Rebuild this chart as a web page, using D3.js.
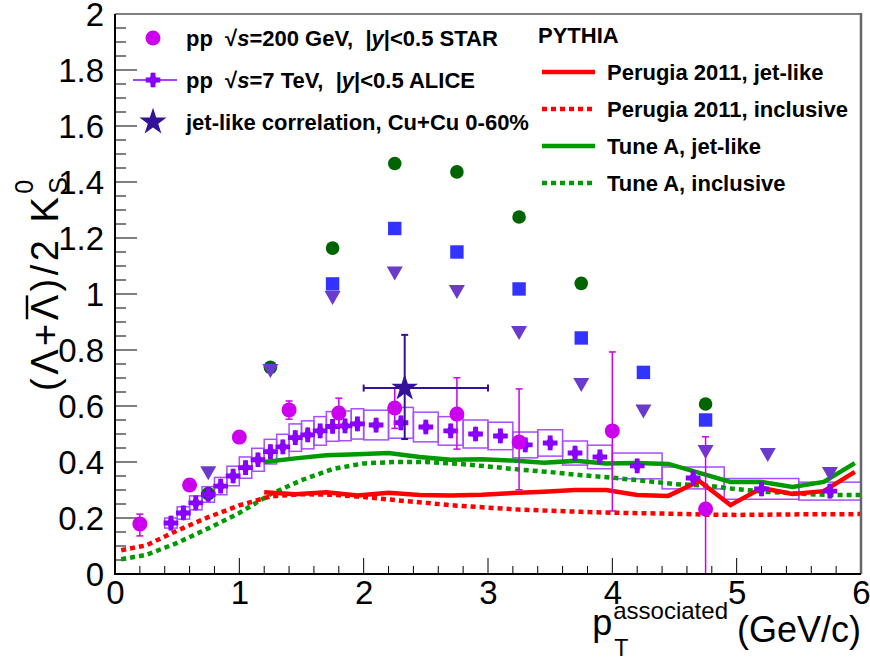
<!DOCTYPE html>
<html><head><meta charset="utf-8">
<script src="https://cdn.jsdelivr.net/npm/d3@7"></script>
<style>
body{margin:0;background:#fff;}
svg{display:block;font-family:"Liberation Sans",Arial,Helvetica,sans-serif;}
text{white-space:pre;}
</style>
</head><body>
<svg id="c" width="870" height="661"></svg>
<script>
// ---------------- data ----------------
// STAR pp 200 GeV
const starX = [0.2, 0.6, 1.0, 1.4, 1.8, 2.25, 2.75, 3.25, 4.0, 4.75];
const starY = [0.179, 0.318, 0.489, 0.586, 0.575, 0.593, 0.571, 0.471, 0.511, 0.232];
const starErrLo = [0.043, 0.0, 0.0, 0.033, 0.045, 0.073, 0.125, 0.17, 0.286, 0.232];
const starErrHi = [0.035, 0.0, 0.0, 0.032, 0.053, 0.071, 0.13, 0.19, 0.282, 0.258];

// ALICE pp 7 TeV
const aliceX = [0.45,0.55,0.65,0.75,0.85,0.95,1.05,1.15,1.25,1.35,1.45,1.55,1.65,1.75,1.85,1.95,
                2.1,2.3,2.5,2.7,2.9,3.1,3.3,3.5,3.7,3.9, 4.2,4.65,5.2,5.75];
const aliceHalfW = [0.05,0.05,0.05,0.05,0.05,0.05,0.05,0.05,0.05,0.05,0.05,0.05,0.05,0.05,0.05,0.05,
                0.1,0.1,0.1,0.1,0.1,0.1,0.1,0.1,0.1,0.1, 0.2,0.25,0.3,0.25];
const aliceY = [0.182,0.218,0.254,0.284,0.314,0.35,0.38,0.408,0.437,0.454,0.487,0.497,0.511,0.527,0.529,0.536,
                0.532,0.54,0.525,0.511,0.5,0.493,0.461,0.468,0.432,0.418, 0.386,0.343,0.304,0.296];
const aliceSys = [0.018,0.022,0.025,0.028,0.031,0.035,0.038,0.041,0.044,0.045,0.049,0.05,0.051,0.053,0.053,0.054,
                0.053,0.055,0.053,0.051,0.05,0.049,0.046,0.047,0.043,0.042, 0.046,0.039,0.037,0.032];

// jet-like correlation Cu+Cu 0-60%
const cuX = [2.33];
const cuY = [0.664];
const cuXLo = [2.0];
const cuXHi = [3.0];
const cuYLo = [0.482];
const cuYHi = [0.854];

// unlabeled marker series
const greenX = [0.75, 1.25, 1.75, 2.25, 2.75, 3.25, 3.75, 4.75];
const greenY = [0.287, 0.738, 1.164, 1.466, 1.436, 1.275, 1.038, 0.607];
const blueX = [1.75, 2.25, 2.75, 3.25, 3.75, 4.25, 4.75];
const blueY = [1.036, 1.234, 1.15, 1.018, 0.843, 0.72, 0.55];
const triX = [0.75, 1.25, 1.75, 2.25, 2.75, 3.25, 3.75, 4.25, 4.75, 5.25, 5.75];
const triY = [0.36, 0.725, 0.986, 1.073, 1.007, 0.861, 0.675, 0.58, 0.436, 0.425, 0.357];

// PYTHIA curves
const jetX = [1.2,1.45,1.7,1.95,2.2,2.45,2.7,2.95,3.2,3.45,3.7,3.95,4.2,4.45,4.7,4.95,5.2,5.45,5.7,5.95];
const perugiaJet = [0.292,0.285,0.292,0.28,0.29,0.282,0.28,0.283,0.289,0.294,0.30,0.30,0.282,0.279,0.332,0.246,0.307,0.286,0.296,0.365];
const tuneAJet = [0.40,0.413,0.424,0.428,0.432,0.418,0.408,0.41,0.405,0.397,0.404,0.395,0.396,0.393,0.361,0.329,0.329,0.311,0.329,0.396];
const inclX = [0.05,0.25,0.5,0.75,1.0,1.25,1.5,1.75,2.0,2.25,2.5,2.75,3.0,3.25,3.5,3.75,4.0,4.25,4.5,4.75,5.0,5.25,5.5,5.75,6.0];
const perugiaIncl = [0.085,0.102,0.155,0.203,0.245,0.277,0.285,0.283,0.275,0.264,0.254,0.244,0.237,0.23,0.226,0.222,0.219,0.217,0.215,0.212,0.211,0.212,0.213,0.213,0.214];
const tuneAIncl = [0.053,0.068,0.111,0.163,0.218,0.285,0.335,0.375,0.395,0.40,0.40,0.394,0.384,0.373,0.364,0.353,0.344,0.333,0.321,0.316,0.303,0.293,0.287,0.282,0.282];

const yMajorTicks = [0,0.2,0.4,0.6,0.8,1,1.2,1.4,1.6,1.8,2];
const xMajorTicks = [0,1,2,3,4,5,6];

// ---------------- drawing ----------------
const svg = d3.select("#c");
const L = 115, R = 861, T = 14, B = 574;
const x = d3.scaleLinear().domain([0, 6]).range([L, R]);
const y = d3.scaleLinear().domain([0, 2]).range([B, T]);

const cMag = "#cc00ee", cAl = "#8a00ff", cAlBox = "#a64dff", cCu = "#33119a";
const cRed = "#ff0000", cGreen = "#009a00", cDkGreen = "#006400", cBlue = "#3333ff", cTri = "#6a3acc";

// marker shapes (centred on their own box)
const triPath = "M-8,-7L8,-7L0,7Z";
const crossPath = d3.symbol(d3.symbolCross, 120)();
const diamondPath = d3.symbol(d3.symbolDiamond, 70)();

// ticks
const yMinor = d3.range(0, 2.0001, 0.05);
const xMinor = d3.range(0, 6.0001, 0.2);
const tg = svg.append("g");
tg.selectAll("line.ym").data(yMinor).join("line")
  .attr("x1", L).attr("x2", d => L + (Math.abs(d / 0.2 - Math.round(d / 0.2)) < 1e-6 ? 22 : 11))
  .attr("y1", d => y(d)).attr("y2", d => y(d)).attr("stroke", "#000").attr("stroke-width", 1);
tg.selectAll("line.xm").data(xMinor).join("line")
  .attr("y1", B).attr("y2", d => B - (Math.abs(d - Math.round(d)) < 1e-6 ? 16 : 8))
  .attr("x1", d => x(d)).attr("x2", d => x(d)).attr("stroke", "#000").attr("stroke-width", 1);

// axes labels via d3 axes (tick lines drawn above)
const yAxis = d3.axisLeft(y).tickValues(yMajorTicks).tickFormat(d3.format("~g")).tickSize(0).tickPadding(11);
const gy = svg.append("g").attr("transform", `translate(${L},0)`).call(yAxis);
gy.select(".domain").remove();
gy.selectAll("text").attr("font-size", 33).attr("fill", "#000")
  .attr("font-family", "Liberation Sans, Arial, sans-serif").attr("dy", "0.36em");
const xAxis = d3.axisBottom(x).tickValues(xMajorTicks).tickFormat(d3.format("~g")).tickSize(0).tickPadding(7);
const gx = svg.append("g").attr("transform", `translate(0,${B})`).call(xAxis);
gx.select(".domain").remove();
gx.selectAll("text").attr("font-size", 33).attr("fill", "#000").attr("font-family", "Liberation Sans, Arial, sans-serif");

// ALICE sys boxes
const plot = svg.append("g");
plot.selectAll("rect.sys").data(aliceX).join("rect")
  .attr("x", (d, i) => x(d - aliceHalfW[i]))
  .attr("width", (d, i) => x(d + aliceHalfW[i]) - x(d - aliceHalfW[i]))
  .attr("y", (d, i) => y(aliceY[i] + aliceSys[i]))
  .attr("height", (d, i) => y(aliceY[i] - aliceSys[i]) - y(aliceY[i] + aliceSys[i]))
  .attr("fill", "none").attr("stroke", cAlBox).attr("stroke-width", 1.5);

// PYTHIA lines
const lineGen = (xs, ys) => d3.line().x((d, i) => x(xs[i])).y(d => y(d))(ys);
plot.append("path").attr("d", lineGen(inclX, tuneAIncl)).attr("fill", "none").attr("stroke", cGreen).attr("stroke-width", 4.5).attr("stroke-dasharray", "5,4");
plot.append("path").attr("d", lineGen(inclX, perugiaIncl)).attr("fill", "none").attr("stroke", cRed).attr("stroke-width", 4.5).attr("stroke-dasharray", "5,4");
plot.append("path").attr("d", lineGen(jetX, tuneAJet)).attr("fill", "none").attr("stroke", cGreen).attr("stroke-width", 4.5);
plot.append("path").attr("d", lineGen(jetX, perugiaJet)).attr("fill", "none").attr("stroke", cRed).attr("stroke-width", 4.5);

// unlabeled markers
plot.selectAll("circle.g").data(greenX).join("circle")
  .attr("cx", d => x(d)).attr("cy", (d, i) => y(greenY[i])).attr("r", 6.8).attr("fill", cDkGreen);
plot.selectAll("path.b").data(blueX).join("path")
  .attr("d", d3.symbol(d3.symbolSquare, 180)())
  .attr("transform", (d, i) => `translate(${x(d)},${y(blueY[i])})`).attr("fill", cBlue);
plot.selectAll("path.t").data(triX).join("path")
  .attr("d", triPath)
  .attr("transform", (d, i) => `translate(${x(d)},${y(triY[i])})`).attr("fill", cTri);

// ALICE points (full cross)
const ag = plot.append("g");
aliceX.forEach((ax, i) => {
  const t = `translate(${x(ax)},${y(aliceY[i])})`;
  ag.append("path").attr("d", diamondPath).attr("transform", t).attr("fill", cAl);
  ag.append("path").attr("d", crossPath).attr("transform", t).attr("fill", cAl);
});

// STAR points with error bars
const sg = plot.append("g");
starX.forEach((sx, i) => {
  const px = x(sx);
  if (starErrLo[i] > 0 || starErrHi[i] > 0) {
    const yt = y(starY[i] + starErrHi[i]), yb = y(Math.max(0, starY[i] - starErrLo[i]));
    sg.append("line").attr("x1", px).attr("x2", px).attr("y1", yt).attr("y2", yb).attr("stroke", cMag).attr("stroke-width", 1.5);
    sg.append("line").attr("x1", px - 3.5).attr("x2", px + 3.5).attr("y1", yt).attr("y2", yt).attr("stroke", cMag).attr("stroke-width", 1.5);
    if (starY[i] - starErrLo[i] > 0.001)
      sg.append("line").attr("x1", px - 3.5).attr("x2", px + 3.5).attr("y1", yb).attr("y2", yb).attr("stroke", cMag).attr("stroke-width", 1.5);
  }
});
sg.selectAll("circle.s").data(starX).join("circle")
  .attr("cx", d => x(d)).attr("cy", (d, i) => y(starY[i])).attr("r", 7.5).attr("fill", cMag);

// Cu+Cu star point
const cg = plot.append("g");
cuX.forEach((cx, i) => {
  const px = x(cx), py = y(cuY[i]);
  const xl = x(cuXLo[i]), xr = x(cuXHi[i]), yt = y(cuYHi[i]), yb = y(cuYLo[i]);
  cg.append("line").attr("x1", xl).attr("x2", xr).attr("y1", py).attr("y2", py).attr("stroke", cCu).attr("stroke-width", 2);
  cg.append("line").attr("x1", px).attr("x2", px).attr("y1", yt).attr("y2", yb).attr("stroke", cCu).attr("stroke-width", 2);
  [[xl, py, 0], [xr, py, 0], [px, yt, 1], [px, yb, 1]].forEach(([ex, ey, h]) => {
    if (h) cg.append("line").attr("x1", ex - 3.5).attr("x2", ex + 3.5).attr("y1", ey).attr("y2", ey).attr("stroke", cCu).attr("stroke-width", 2);
    else cg.append("line").attr("x1", ex).attr("x2", ex).attr("y1", ey - 3.5).attr("y2", ey + 3.5).attr("stroke", cCu).attr("stroke-width", 2);
  });
  cg.append("path").attr("d", d3.symbol(d3.symbolStar, 220)()).attr("transform", `translate(${px},${py})`).attr("fill", cCu);
});

// frame
svg.append("line").attr("x1", L).attr("x2", R).attr("y1", T).attr("y2", T).attr("stroke", "#808080").attr("stroke-width", 2);
svg.append("line").attr("x1", R).attr("x2", R).attr("y1", T - 1).attr("y2", B).attr("stroke", "#666").attr("stroke-width", 2.5);
svg.append("line").attr("x1", L).attr("x2", L).attr("y1", T).attr("y2", B + 1).attr("stroke", "#000").attr("stroke-width", 2);
svg.append("line").attr("x1", L - 1).attr("x2", R).attr("y1", B).attr("y2", B).attr("stroke", "#000").attr("stroke-width", 2);

// ---------------- legends ----------------
const lg = svg.append("g").attr("font-weight", "bold").attr("font-size", 22);
const leg1 = [
  { y: 38, parts: [["pp  ", ""], ["√", ""], ["s", "i"], ["=200 GeV,  |", ""], ["y", "i"], ["|<0.5 STAR", ""]] },
  { y: 80, parts: [["pp  ", ""], ["√", ""], ["s", "i"], ["=7 TeV,  |", ""], ["y", "i"], ["|<0.5 ALICE", ""]] },
  { y: 122, parts: [["jet-like correlation, Cu+Cu 0-60%", ""]] }
];
leg1.forEach(row => {
  const t = lg.append("text").attr("x", 186).attr("y", row.y + 8);
  row.parts.forEach(([s, st]) => {
    const ts = t.append("tspan").text(s);
    if (st === "i") ts.attr("font-style", "italic");
  });
});
lg.append("circle").attr("cx", 153).attr("cy", 38).attr("r", 7.5).attr("fill", cMag);
lg.append("line").attr("x1", 133).attr("x2", 177).attr("y1", 80).attr("y2", 80).attr("stroke", cAl).attr("stroke-width", 1.5);
lg.append("path").attr("d", diamondPath).attr("transform", "translate(153,80)").attr("fill", cAl);
lg.append("path").attr("d", crossPath).attr("transform", "translate(153,80)").attr("fill", cAl);
lg.append("path").attr("d", d3.symbol(d3.symbolStar, 230)()).attr("transform", "translate(153,122)").attr("fill", cCu);

lg.append("text").attr("x", 538).attr("y", 43).text("PYTHIA");
const leg2 = [
  { y: 72, c: cRed, dash: null, t: "Perugia 2011, jet-like" },
  { y: 109, c: cRed, dash: "5,4", t: "Perugia 2011, inclusive" },
  { y: 146, c: cGreen, dash: null, t: "Tune A, jet-like" },
  { y: 183, c: cGreen, dash: "5,4", t: "Tune A, inclusive" }
];
leg2.forEach(r => {
  const l = lg.append("line").attr("x1", 542).attr("x2", 595).attr("y1", r.y).attr("y2", r.y).attr("stroke", r.c).attr("stroke-width", 4.5);
  if (r.dash) l.attr("stroke-dasharray", r.dash);
  lg.append("text").attr("x", 607).attr("y", r.y + 8).text(r.t);
});

// ---------------- axis titles ----------------
// x title: p_T^{associated} (GeV/c), right-aligned to frame
const xt = svg.append("g").attr("font-size", 36);
const geV = xt.append("text").attr("x", R).attr("y", 642).attr("text-anchor", "end").text("(GeV/c)");
const gw = geV.node().getComputedTextLength();
const sup = xt.append("text").attr("x", R - gw - 9).attr("y", 619).attr("text-anchor", "end").attr("font-size", 24).text("associated");
const sw = sup.node().getComputedTextLength();
const supStart = R - gw - 9 - sw;
xt.append("text").attr("x", supStart + 1).attr("y", 656).attr("font-size", 23).text("T");
xt.append("text").attr("x", supStart - 1).attr("y", 635).attr("text-anchor", "end").text("p");

// y title: (Λ+Λ̄)/2 K^0_S rotated
const yt = svg.append("g").attr("transform", "translate(58,391) rotate(-90)").attr("font-size", 38);
const ytxt = yt.append("text").attr("x", 0).attr("y", 0).attr("letter-spacing", 3.5).text("(Λ+Λ)/2 K");
const ext = ytxt.node().getExtentOfChar(3);
yt.append("line").attr("x1", ext.x + 1).attr("x2", ext.x + ext.width - 4)
  .attr("y1", -31).attr("y2", -31).attr("stroke", "#000").attr("stroke-width", 2.5);
const mw = ytxt.node().getComputedTextLength();
yt.append("text").attr("x", mw).attr("y", -25).attr("font-size", 25).text("0");
yt.append("text").attr("x", mw).attr("y", 9).attr("font-size", 25).text("S");
</script>
</body></html>
